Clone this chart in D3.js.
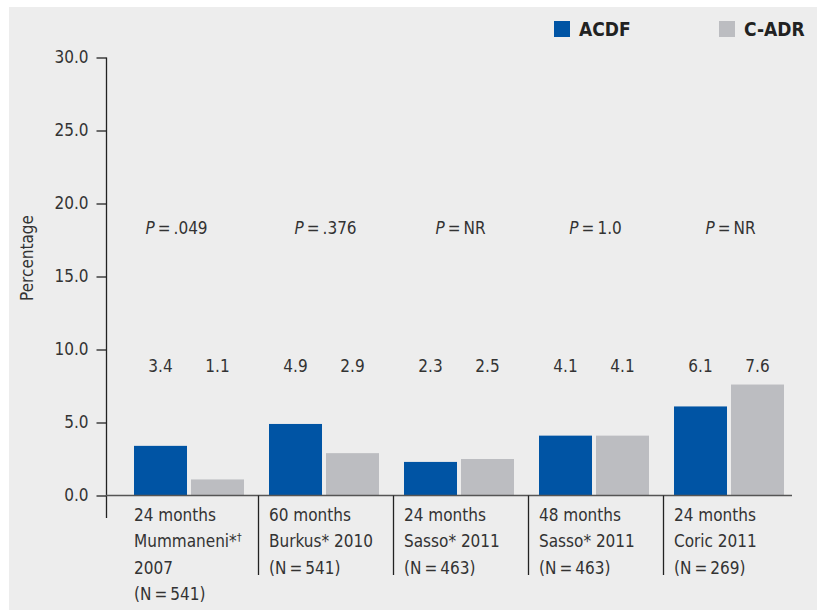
<!DOCTYPE html>
<html>
<head>
<meta charset="utf-8">
<script src="https://cdn.jsdelivr.net/npm/d3@7"></script>
<style>
  body { margin: 0; background: #fff; }
  text { font-family: "Liberation Sans Narrow", "DejaVu Sans Condensed", "Roboto Condensed", sans-serif; fill: #333; }
</style>
</head>
<body>
<script>
// values
var categories = ["c1", "c2", "c3", "c4", "c5"];
var catLines = [
    ["24 months", "Mummaneni*|\u2020", "2007", "(N\u2009=\u2009541)"],
    ["60 months", "Burkus* 2010", "(N\u2009=\u2009541)"],
    ["24 months", "Sasso* 2011", "(N\u2009=\u2009463)"],
    ["48 months", "Sasso* 2011", "(N\u2009=\u2009463)"],
    ["24 months", "Coric 2011", "(N\u2009=\u2009269)"]
];
var series = ["ACDF", "C-ADR"];
var acdf = [3.4, 4.9, 2.3, 4.1, 6.1];
var cadr = [1.1, 2.9, 2.5, 4.1, 7.6];
var pValues = [".049", ".376", "NR", "1.0", "NR"];
var yTicks = [0, 5, 10, 15, 20, 25, 30];

var colors = { "ACDF": "#0054a4", "C-ADR": "#bcbdc1" };

var width = 817, height = 610;

var svg = d3.select("body").append("svg")
    .attr("width", width)
    .attr("height", height);

// grey panel
svg.append("rect")
    .attr("x", 9).attr("y", 7)
    .attr("width", width - 9).attr("height", height - 7)
    .attr("fill", "#ededed");

var y = d3.scaleLinear().domain([0, 30]).range([495.5, 57.5]);

var x0 = d3.scaleBand().domain(categories).range([123, 798]).padding(0);
var x1 = d3.scaleBand().domain(series).range([11, 121]).paddingInner(0.07);

// y axis
var yAxis = svg.append("g")
    .attr("transform", "translate(106.5,0)")
    .call(d3.axisLeft(y).tickValues(yTicks).tickFormat(d3.format(".1f")).tickSize(10).tickPadding(8));
yAxis.select(".domain").remove();
yAxis.append("line")
    .attr("x1", 0).attr("x2", 0)
    .attr("y1", y(30)).attr("y2", 518)
    .attr("stroke", "#222").attr("stroke-width", 1.3);
yAxis.selectAll(".tick line").attr("stroke", "#222").attr("stroke-width", 1.3);
yAxis.selectAll(".tick text")
    .attr("fill", "#333")
    .style("font-size", "17px");

// bars
var groups = svg.selectAll(".grp")
    .data(categories)
    .enter().append("g")
    .attr("class", "grp")
    .attr("transform", function(d) { return "translate(" + x0(d) + ",0)"; });

groups.selectAll("rect")
    .data(function(d, i) {
        return [{ s: "ACDF", v: acdf[i] }, { s: "C-ADR", v: cadr[i] }];
    })
    .enter().append("rect")
    .attr("x", function(d) { return x1(d.s); })
    .attr("y", function(d) { return y(d.v); })
    .attr("width", x1.bandwidth())
    .attr("height", function(d) { return y(0) - y(d.v); })
    .attr("fill", function(d) { return colors[d.s]; });

// value labels
groups.selectAll(".val")
    .data(function(d, i) {
        return [{ s: "ACDF", v: acdf[i] }, { s: "C-ADR", v: cadr[i] }];
    })
    .enter().append("text")
    .attr("class", "val")
    .attr("x", function(d) { return x1(d.s) + x1.bandwidth() / 2; })
    .attr("y", 372)
    .attr("text-anchor", "middle")
    .style("font-size", "17px")
    .text(function(d) { return d.v.toFixed(1); });

// P values
groups.append("text")
    .attr("x", function(d, i) { return x0.bandwidth() / 2 - (i === 0 ? 14 : 0); })
    .attr("y", 234)
    .attr("text-anchor", "middle")
    .style("font-size", "17px")
    .each(function(d, i) {
        var t = d3.select(this);
        t.append("tspan").style("font-style", "italic").text("P");
        t.append("tspan").text("\u2009=\u2009" + pValues[i]);
    });

// x axis baseline
svg.append("line")
    .attr("x1", 106).attr("x2", 792)
    .attr("y1", y(0)).attr("y2", y(0))
    .attr("stroke", "#555").attr("stroke-width", 1.3);

// separators
svg.selectAll(".sep")
    .data(categories.slice(1))
    .enter().append("line")
    .attr("class", "sep")
    .attr("x1", function(d) { return x0(d) + 0.5; })
    .attr("x2", function(d) { return x0(d) + 0.5; })
    .attr("y1", y(0)).attr("y2", 575)
    .attr("stroke", "#222").attr("stroke-width", 1.3);

// category labels ("|" marks a superscript part)
groups.append("text")
    .attr("x", 11)
    .attr("y", 521)
    .style("font-size", "17px")
    .each(function(d, i) {
        var t = d3.select(this);
        catLines[i].forEach(function(line, j) {
            var parts = line.split("|");
            t.append("tspan").attr("x", 11).attr("y", 521 + j * 26.3).text(parts[0]);
            if (parts[1]) {
                t.append("tspan")
                    .attr("dy", -6)
                    .style("font-size", "11px")
                    .text(parts[1]);
            }
        });
    });

// y label
svg.append("text")
    .attr("transform", "translate(33,258) rotate(-90)")
    .attr("text-anchor", "middle")
    .style("font-size", "17px")
    .text("Percentage");

// legend
var legend = svg.selectAll(".legend")
    .data(series)
    .enter().append("g")
    .attr("class", "legend")
    .attr("transform", function(d, i) { return "translate(" + (554 + i * 165) + ",21)"; });

legend.append("rect")
    .attr("width", 16).attr("height", 16)
    .attr("fill", function(d) { return colors[d]; });

legend.append("text")
    .attr("x", 25).attr("y", 15)
    .style("font-size", "19px")
    .style("font-weight", "bold")
    .style("fill", "#222")
    .text(function(d) { return d; });
</script>
</body>
</html>
